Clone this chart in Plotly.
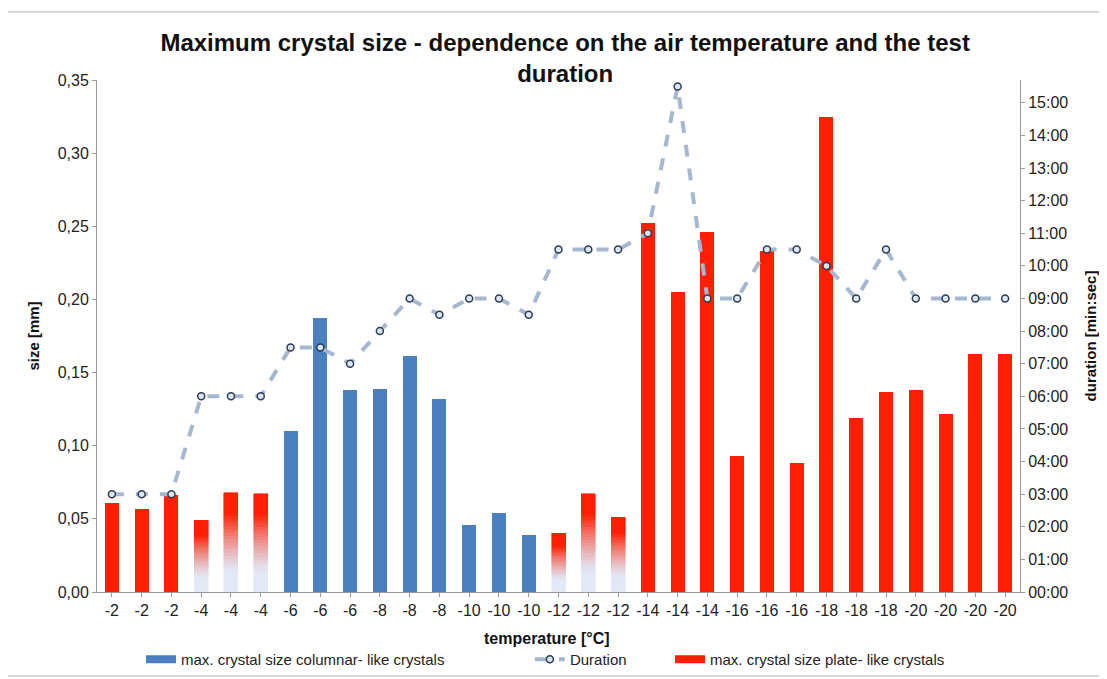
import plotly.graph_objects as go

temps = ['-2', '-2', '-2', '-4', '-4', '-4', '-6', '-6', '-6', '-8', '-8', '-8',
         '-10', '-10', '-10', '-12', '-12', '-12', '-14', '-14', '-14',
         '-16', '-16', '-16', '-18', '-18', '-18', '-20', '-20', '-20', '-20']

# max crystal size, columnar-like crystals [mm]
columnar = [None, None, None, None, None, None, 0.110, 0.187, 0.138, 0.139, 0.161, 0.132,
            0.046, 0.054, 0.039, None, None, None, None, None, None,
            None, None, None, None, None, None, None, None, None, None]

# max crystal size, plate-like crystals [mm]
plate = [0.061, 0.057, 0.066, 0.049, 0.068, 0.067, None, None, None, None, None, None,
         None, None, None, 0.040, 0.067, 0.051, 0.252, 0.205, 0.246,
         0.093, 0.233, 0.088, 0.325, 0.119, 0.137, 0.138, 0.122, 0.163, 0.163]

# bars drawn with a faded (red -> pale blue) fill in the original
faded = [3, 4, 5, 15, 16, 17]

# test duration [min]
duration = [3, 3, 3, 6, 6, 6, 7.5, 7.5, 7, 8, 9, 8.5, 9, 9, 8.5, 10.5, 10.5, 10.5,
            11, 15.5, 9, 9, 10.5, 10.5, 10, 9, 10.5, 9, 9, 9, 9]

dur_ticks = list(range(0, 16))
dur_labels = ['%02d:00' % m for m in dur_ticks]

x = list(range(len(temps)))
RED = '#ff1e00'
BLUE = '#4a7fc0'
FONT = 'Liberation Sans, Arial, sans-serif'
COL_NAME = 'max. crystal size columnar- like crystals'
PLATE_NAME = 'max. crystal size plate- like crystals'

fig = go.Figure()

fig.add_trace(go.Bar(x=x, y=columnar, name=COL_NAME, legendgroup='col', showlegend=False,
                     marker=dict(color=BLUE, line=dict(width=0))))

solid_plate = [None if i in faded else v for i, v in enumerate(plate)]
fig.add_trace(go.Bar(x=x, y=solid_plate, name=PLATE_NAME, legendgroup='plate',
                     showlegend=False, marker=dict(color=RED, line=dict(width=0))))

# faded bars: stack of thin slices, colour blended from pale blue (bottom) to red (top)
n_seg = 30
bottom = (226, 232, 246)
top = (255, 30, 0)
for k in range(n_seg):
    f = (k + 0.5) / n_seg
    t = min(max((f - 0.2) / 0.6, 0), 1) ** 1.3
    c = 'rgb(%d,%d,%d)' % tuple(int(bottom[j] + (top[j] - bottom[j]) * t) for j in range(3))
    seg = [plate[i] / n_seg if i in faded else None for i in x]
    fig.add_trace(go.Bar(x=x, y=seg, showlegend=False, hoverinfo='skip', legendgroup='plate',
                         marker=dict(color=c, line=dict(width=0.6, color=c))))

fig.add_trace(go.Scatter(x=x, y=duration, name='Duration', yaxis='y2', mode='lines+markers',
                         line=dict(color='#a6b7d0', width=4, dash='dash'),
                         marker=dict(symbol='circle', size=7, color='#dce6f2',
                                     line=dict(color='#2b3d52', width=1.5)),
                         legend='legend2'))

# legend keys drawn as wide flat bars, like the original
fig.add_trace(go.Scatter(x=[None], y=[None], mode='lines', name=COL_NAME, legendgroup='col',
                         line=dict(color=BLUE, width=8), legend='legend'))
fig.add_trace(go.Scatter(x=[None], y=[None], mode='lines', name=PLATE_NAME, legendgroup='plate',
                         line=dict(color=RED, width=8), legend='legend3'))

axis_common = dict(showline=True, linecolor='#9a9a9a', ticks='outside', ticklen=4,
                   tickcolor='#9a9a9a', showgrid=False, zeroline=False, automargin=False,
                   tickfont=dict(size=16, color='#222222'))

leg_common = dict(orientation='h', y=-0.0996, yanchor='top', xanchor='left',
                  font=dict(size=15, color='#222222'), bgcolor='rgba(0,0,0,0)')

# page body adds an 8px offset, so the figure is 8px smaller than the window
fig.update_layout(
    width=1099, height=671,
    paper_bgcolor='white', plot_bgcolor='white',
    separators=',.',
    barmode='stack', bargap=0.53,
    margin=dict(l=89, r=87, t=72, b=87, autoexpand=False),
    font=dict(family=FONT, size=14, color='#333333'),
    title=dict(text='<b>Maximum crystal size - dependence on the air temperature and the test<br>duration</b>',
               x=0.507, xanchor='center', y=0.936, yanchor='top',
               font=dict(family=FONT, size=24, color='#111111')),
    xaxis=dict(tickmode='array', tickvals=x, ticktext=temps, range=[-0.5, 30.5],
               **axis_common),
    yaxis=dict(range=[0, 0.35], dtick=0.05, tickformat='.2f',
               title=dict(text='<b>size [mm]</b>', standoff=14,
                          font=dict(size=15, color='#111111')),
               **axis_common),
    yaxis2=dict(overlaying='y', side='right', range=[0, 15.7],
                tickmode='array', tickvals=dur_ticks, ticktext=dur_labels,
                title=dict(text='<b>duration [min:sec]</b>', standoff=18,
                           font=dict(size=15, color='#111111')),
                **axis_common),
    legend=dict(x=0.0477, **leg_common),
    legend2=dict(x=0.469, **leg_common),
    legend3=dict(x=0.6208, **leg_common),
    showlegend=True,
)

fig.add_annotation(text='<b>temperature [°C]</b>', xref='paper', yref='paper',
                   x=0.4875, y=-0.07, xanchor='center', yanchor='top', showarrow=False,
                   font=dict(family=FONT, size=16, color='#111111'))

# thin frame around the whole chart, as in the original
fig.add_shape(type='rect', xref='paper', yref='paper',
              x0=-0.0997, x1=1.09, y0=-0.164, y1=1.133,
              line=dict(color='#b0b0b0', width=1), layer='below')

fig.write_html('out.html')
